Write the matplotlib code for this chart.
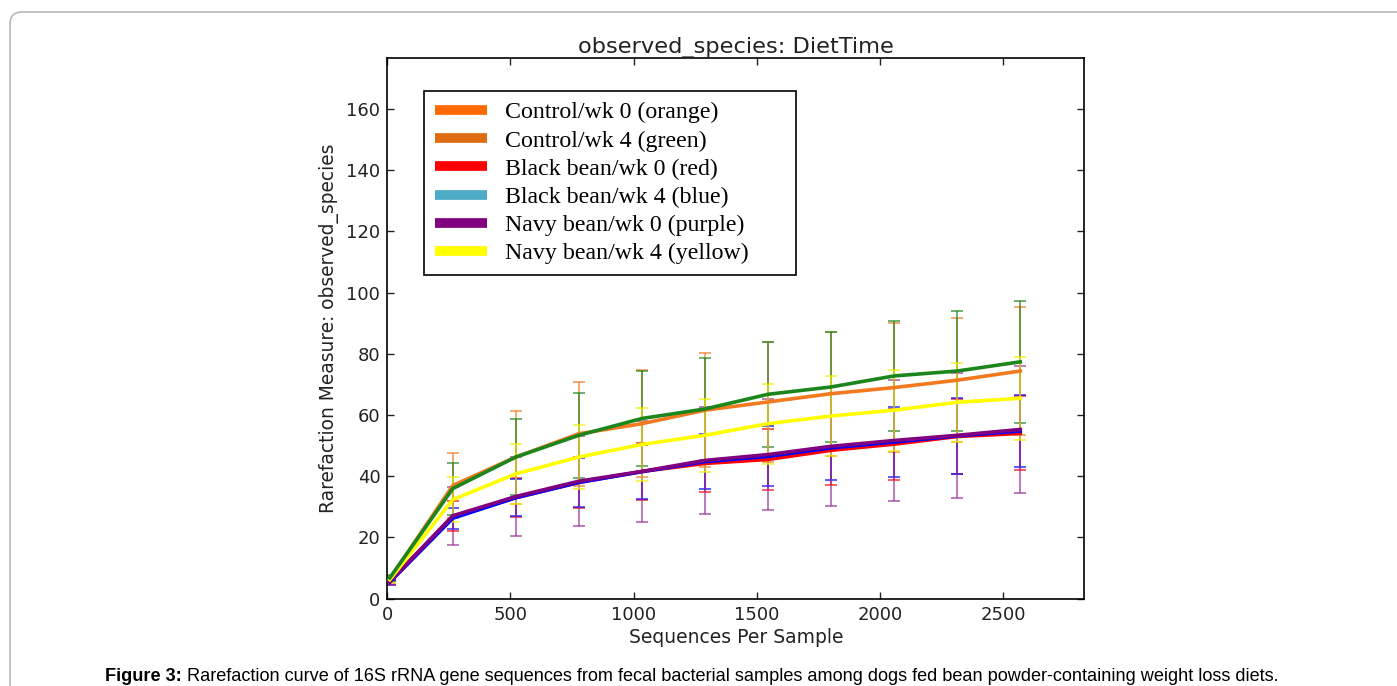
import matplotlib
matplotlib.use("Agg")
import matplotlib.pyplot as plt
from matplotlib.lines import Line2D
from matplotlib.patches import FancyBboxPatch
from matplotlib.transforms import IdentityTransform

# rarefaction depths
depth = [10, 266, 522, 778, 1034, 1290, 1546, 1802, 2058, 2314, 2570]

# mean observed species per group
ctrl_w0 = [6.5, 37.0, 46.3, 53.9, 57.2, 61.6, 64.3, 67.0, 69.0, 71.4, 74.4]
ctrl_w4 = [6.8, 36.0, 46.3, 53.4, 58.9, 62.0, 66.8, 69.2, 72.8, 74.4, 77.4]
black_w0 = [5.6, 27.0, 33.0, 38.0, 41.6, 44.2, 45.5, 48.5, 50.5, 53.0, 54.0]
black_w4 = [5.4, 26.3, 33.0, 38.0, 41.5, 44.8, 46.5, 49.3, 51.2, 53.2, 54.8]
navy_w0 = [5.6, 27.1, 33.4, 38.4, 41.6, 45.2, 47.1, 49.8, 51.7, 53.4, 55.3]
navy_w4 = [6.2, 32.4, 40.8, 46.3, 50.4, 53.4, 57.2, 59.7, 61.6, 64.2, 65.5]

# standard deviations
ctrl_w0_sd = [1.0, 10.6, 15.2, 17.0, 17.5, 18.6, 19.7, 20.3, 21.0, 20.2, 21.0]
ctrl_w4_sd = [1.0, 8.5, 12.3, 13.9, 15.4, 16.7, 17.1, 18.1, 18.1, 19.5, 20.0]
black_w0_sd = [0.8, 5.0, 6.4, 8.4, 9.2, 9.4, 10.0, 11.2, 11.6, 12.4, 12.1]
black_w4_sd = [0.8, 3.5, 6.0, 8.0, 8.8, 9.0, 9.8, 10.5, 11.3, 12.3, 11.9]
navy_w0_sd = [1.0, 9.5, 12.8, 14.8, 16.4, 17.6, 18.1, 19.4, 19.9, 20.5, 20.9]
navy_w4_sd = [1.0, 7.3, 9.8, 10.6, 12.0, 12.0, 13.1, 13.1, 13.2, 12.9, 13.6]

legend_labels = ["Control/wk 0 (orange)", "Control/wk 4 (green)",
                 "Black bean/wk 0 (red)", "Black bean/wk 4 (blue)",
                 "Navy bean/wk 0 (purple)", "Navy bean/wk 4 (yellow)"]
legend_colors = ["#ff6a00", "#e06c12", "#ff0000", "#4babc6", "#800080", "#ffff00"]

fig = plt.figure(figsize=(13.97, 6.86), dpi=100)
fig.patches.append(FancyBboxPatch((10, -40), 1460, 714, boxstyle="round,pad=0,rounding_size=12",
                                  transform=IdentityTransform(), figure=fig,
                                  facecolor="none", edgecolor="#b8b8b8", lw=1.2))

ax = fig.add_axes([387.3 / 1397, 87.3 / 686, 697 / 1397, 540.4 / 686])

series = [
    (ctrl_w0, ctrl_w0_sd, "#f27a1e", "#f27a1e"),
    (ctrl_w4, ctrl_w4_sd, "#1c861c", "#1c861c"),
    (black_w0, black_w0_sd, "#ff0000", "#ff0000"),
    (black_w4, black_w4_sd, "#0000ff", "#0000ff"),
    (navy_w0, navy_w0_sd, "#800080", "#9a309a"),
    (navy_w4, navy_w4_sd, "#ffff00", "#f0f000"),
]
for mean, sd, col, ecol in series:
    ax.errorbar(depth, mean, yerr=sd, fmt="none", ecolor=ecol, elinewidth=1.2,
                capsize=4, capthick=1.2, alpha=0.75, zorder=2)
order = [0, 2, 3, 4, 5, 1]
for i in order:
    mean, sd, col, ecol = series[i]
    ax.plot(depth, mean, color=col, lw=2.6, zorder=3)

ax.set_xlim(0, 2830)
ax.set_ylim(0, 176.6)
ax.set_xticks([0, 500, 1000, 1500, 2000, 2500])
ax.set_yticks(range(0, 161, 20))
ax.tick_params(direction="in", top=True, right=True, length=5, width=1,
               labelsize=13, colors="#222222", pad=5)
for s in ax.spines.values():
    s.set_linewidth(1.2)
ax.set_title("observed_species: DietTime", fontsize=16.2, color="#222222", pad=4)
ax.set_xlabel("Sequences Per Sample", fontsize=13.5, color="#222222", labelpad=3)
ax.set_ylabel("Rarefaction Measure: observed_species", fontsize=13.4, color="#222222", labelpad=5)

# widest label gets trailing spaces so the frame has the extra room on the right
shown_labels = list(legend_labels)
shown_labels[5] = shown_labels[5] + "\u00a0" * 6
handles = [Line2D([], [], color=c, lw=7, solid_capstyle="butt") for c in legend_colors]
leg = ax.legend(handles, shown_labels, loc="upper left", bbox_to_anchor=(0.0527, 0.9395),
                borderaxespad=0, fancybox=False, edgecolor="black", framealpha=1,
                prop={"family": "Liberation Serif", "size": 17.2}, labelspacing=0.27,
                handlelength=2.2, handletextpad=0.76, borderpad=0.45)
leg.get_frame().set_linewidth(1.2)

cap_y = 5 / 686
t1 = fig.text(0.0755, cap_y, "Figure 3:", fontsize=13.1, fontweight="bold",
              family="Liberation Sans", va="baseline")
fig.canvas.draw()
bb = t1.get_window_extent()
fig.text(bb.x1 / 1397, cap_y, " Rarefaction curve of 16S rRNA gene sequences from fecal bacterial samples "
         "among dogs fed bean powder-containing weight loss diets.", fontsize=13.1,
         family="Liberation Sans", va="baseline")

fig.savefig("out.png", dpi=100)
